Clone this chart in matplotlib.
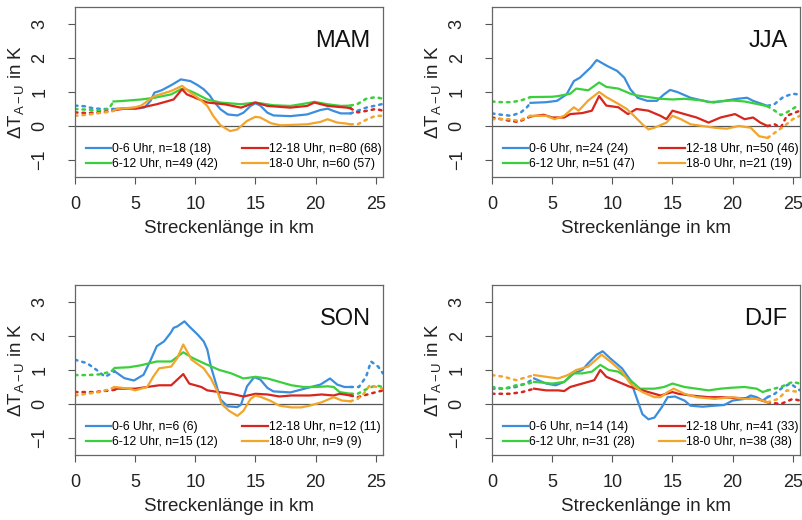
import numpy as np
import matplotlib
matplotlib.use("Agg")
import matplotlib.pyplot as plt

plt.rcParams['font.family'] = ['Liberation Sans', 'DejaVu Sans']
plt.rcParams['mathtext.fontset'] = 'custom'
plt.rcParams['mathtext.rm'] = 'Liberation Sans'
plt.rcParams['mathtext.it'] = 'Liberation Sans:italic'
plt.rcParams['mathtext.bf'] = 'Liberation Sans:bold'

mam_06 = [(0, 0.6), (0.8, 0.58), (1.5, 0.52), (2.3, 0.5), (3.2, 0.5), (4, 0.52), (5, 0.5), (5.8, 0.55),
          (6.3, 0.75), (6.6, 0.98), (7.2, 1.05), (8, 1.2), (8.8, 1.37), (9.6, 1.32), (10.2, 1.2), (10.7, 1.08),
          (11.2, 0.9), (11.5, 0.74), (12.1, 0.49), (12.7, 0.34), (13.5, 0.31), (14, 0.39), (14.6, 0.59),
          (15, 0.67), (15.4, 0.6), (16, 0.39), (16.5, 0.31), (17.9, 0.29), (19.3, 0.34), (20.4, 0.47),
          (21, 0.51), (21.5, 0.44), (22.1, 0.37), (22.9, 0.37), (23.5, 0.45), (24.3, 0.55), (25, 0.6),
          (25.6, 0.65)]
mam_612 = [(0, 0.5), (1, 0.48), (2, 0.45), (2.8, 0.5), (3.2, 0.72), (4.1, 0.74), (5.5, 0.78), (6.6, 0.83),
           (8, 0.93), (8.8, 1.08), (9.1, 1.1), (9.9, 0.98), (11, 0.78), (12.1, 0.69), (13.8, 0.64), (15, 0.69),
           (16.5, 0.61), (17.9, 0.59), (19.3, 0.67), (19.9, 0.71), (21, 0.64), (22.1, 0.59), (22.9, 0.6),
           (23.5, 0.65), (24.2, 0.8), (25, 0.85), (25.6, 0.8)]
mam_1218 = [(0, 0.4), (1, 0.38), (2, 0.4), (3, 0.44), (3.2, 0.46), (4.1, 0.51), (5.5, 0.54), (6.8, 0.64),
            (8.2, 0.78), (8.9, 1.08), (9.3, 0.93), (10.2, 0.8), (11, 0.69), (12.4, 0.64), (13.8, 0.54),
            (15, 0.69), (16, 0.59), (17.9, 0.54), (19.3, 0.59), (19.9, 0.69), (21, 0.59), (22.6, 0.54),
            (22.9, 0.52), (23.5, 0.4), (24.3, 0.45), (25, 0.5), (25.6, 0.45)]
mam_180 = [(0, 0.3), (1, 0.33), (2, 0.38), (3, 0.42), (3.2, 0.45), (3.5, 0.5), (5, 0.55), (5.5, 0.6),
           (6.6, 0.88), (8, 1.03), (8.9, 1.18), (9.6, 0.98), (10.4, 0.78), (11, 0.59), (11.5, 0.29),
           (12.1, 0.02), (12.9, -0.15), (13.5, -0.1), (14.3, 0.15), (15, 0.27), (15.4, 0.25), (16.3, 0.08),
           (17.1, 0.02), (19.3, 0.05), (20.4, 0.12), (21, 0.2), (21.8, 0.1), (22.6, 0.07), (22.9, 0.05),
           (23.5, 0.05), (24.3, 0.2), (25, 0.3), (25.6, 0.3)]

jja_06 = [(0, 0.37), (0.8, 0.33), (1.6, 0.3), (2.4, 0.4), (2.9, 0.55), (3.2, 0.68), (4.5, 0.7), (5.4, 0.74),
          (6.2, 0.93), (6.8, 1.32), (7.3, 1.42), (8.2, 1.72), (8.7, 1.94), (9.6, 1.76), (10.4, 1.62),
          (11, 1.42), (11.5, 1.08), (12.1, 0.83), (12.9, 0.74), (13.7, 0.74), (14.3, 0.93), (14.8, 1.06),
          (15.4, 1.0), (16.5, 0.83), (17.6, 0.74), (18.4, 0.69), (19.3, 0.74), (20.4, 0.8), (21.2, 0.83),
          (21.7, 0.74), (22.9, 0.59), (23.5, 0.65), (24.2, 0.85), (25, 0.95), (25.6, 0.92)]
jja_612 = [(0, 0.72), (0.8, 0.7), (1.6, 0.7), (2.4, 0.75), (3.2, 0.85), (5, 0.86), (5.5, 0.88), (6.5, 0.95),
           (7, 1.1), (8, 1.05), (8.9, 1.28), (9.5, 1.15), (10.5, 1.1), (11.5, 0.95), (12, 0.9), (13, 0.85),
           (14, 0.8), (15, 0.78), (16, 0.8), (17.5, 0.75), (18, 0.7), (20, 0.75), (21, 0.72), (22, 0.65),
           (22.9, 0.58), (23.5, 0.45), (24, 0.32), (24.5, 0.4), (25.2, 0.55), (25.6, 0.6)]
jja_1218 = [(0, 0.25), (0.8, 0.2), (1.5, 0.15), (2.2, 0.12), (3.2, 0.28), (4.3, 0.33), (5, 0.25), (6, 0.25),
            (6.5, 0.35), (7.5, 0.38), (8.3, 0.45), (8.9, 0.88), (9.5, 0.6), (10.5, 0.55), (11.3, 0.35),
            (12, 0.5), (13, 0.45), (14, 0.3), (14.5, 0.2), (15, 0.45), (16, 0.35), (17, 0.25), (18, 0.1),
            (19, 0.25), (20.2, 0.35), (21, 0.2), (21.7, 0.25), (22.3, 0.1), (22.9, 0.0), (23.5, 0.05),
            (24, -0.05), (24.5, 0.3), (25.6, 0.45)]
jja_180 = [(0, 0.2), (0.8, 0.2), (1.5, 0.2), (2.2, 0.15), (3.2, 0.3), (4.5, 0.3), (5.2, 0.2), (6, 0.3),
           (6.8, 0.55), (7.2, 0.45), (8, 0.75), (8.9, 1.0), (9.5, 0.85), (10.5, 0.65), (11.2, 0.5),
           (11.8, 0.3), (12.5, 0.05), (13, -0.1), (13.5, -0.05), (14.5, 0.1), (15, 0.3), (15.7, 0.2),
           (16.5, 0.05), (17.5, 0.0), (18.5, -0.05), (19.5, -0.08), (20.5, 0.0), (21.5, -0.05), (22.2, -0.3),
           (22.9, -0.35), (23.5, -0.2), (24.3, 0.0), (25, 0.2), (25.6, 0.3)]

son_06 = [(0, 1.3), (1, 1.2), (1.8, 1.0), (2.5, 0.8), (3.3, 0.96), (4.1, 0.76), (4.9, 0.69), (5.7, 0.86),
          (6.3, 1.3), (6.8, 1.7), (7.4, 1.84), (7.95, 2.09), (8.2, 2.24), (8.5, 2.28), (9.1, 2.43),
          (9.5, 2.28), (10.2, 2.04), (10.7, 1.84), (11, 1.6), (11.3, 1.1), (11.7, 0.62), (12.1, 0.13),
          (12.7, -0.07), (13.5, -0.09), (13.8, -0.02), (14.3, 0.52), (14.9, 0.79), (15.4, 0.72), (16, 0.47),
          (16.5, 0.37), (17.9, 0.34), (19.3, 0.47), (20.4, 0.57), (21.2, 0.75), (21.8, 0.57), (22.4, 0.5),
          (22.9, 0.5), (23.6, 0.5), (24.2, 0.8), (24.6, 1.25), (25.2, 1.1), (25.6, 0.9)]
son_612 = [(0, 0.85), (1, 0.85), (2, 0.87), (3, 0.95), (3.3, 1.06), (4.5, 1.08), (5.5, 1.14), (6.8, 1.25),
           (8, 1.25), (9, 1.52), (9.8, 1.35), (10.7, 1.2), (12, 1.0), (13, 0.9), (14, 0.75), (15, 0.8),
           (16, 0.75), (17, 0.65), (18, 0.55), (19, 0.5), (20, 0.5), (21, 0.52), (21.5, 0.5), (22, 0.35),
           (22.9, 0.3), (23.5, 0.3), (24, 0.4), (25, 0.55), (25.6, 0.5)]
son_1218 = [(0, 0.35), (1.5, 0.35), (3, 0.4), (3.3, 0.42), (3.5, 0.45), (5, 0.45), (6, 0.5), (7, 0.55),
            (8, 0.55), (9, 0.88), (9.5, 0.6), (10.5, 0.5), (11, 0.4), (12, 0.35), (13, 0.3), (14, 0.22),
            (15, 0.3), (16, 0.28), (17, 0.22), (18, 0.25), (19.5, 0.25), (20.5, 0.28), (21.5, 0.25), (22, 0.3),
            (22.9, 0.25), (23.5, 0.2), (24.5, 0.3), (25.6, 0.4)]
son_180 = [(0, 0.25), (1, 0.3), (2, 0.35), (3, 0.45), (3.3, 0.5), (4.5, 0.45), (5, 0.4), (6, 0.5), (6.5, 0.8),
           (7, 1.05), (8, 1.1), (8.5, 1.35), (9, 1.75), (9.7, 1.3), (10.7, 1.05), (11.3, 0.75), (11.8, 0.4),
           (12.2, 0.0), (12.8, -0.2), (13.5, -0.35), (14, -0.2), (14.6, 0.15), (15, 0.25), (15.5, 0.2),
           (16.2, 0.1), (17, -0.05), (18, -0.1), (18.8, -0.1), (19.5, -0.05), (20.5, 0.05), (21.5, 0.2),
           (22.2, 0.1), (22.9, 0.08), (23.5, 0.15), (24, 0.3), (24.5, 0.55), (25.6, 0.45)]

djf_06 = [(0, 0.45), (1, 0.45), (2, 0.5), (2.8, 0.6), (3.5, 0.75), (4.5, 0.6), (5.3, 0.55), (6, 0.65),
          (6.8, 0.9), (7.5, 1.0), (8, 1.2), (8.7, 1.45), (9.2, 1.55), (9.8, 1.35), (10.8, 1.05), (11.5, 0.7),
          (12, 0.2), (12.5, -0.3), (13, -0.45), (13.5, -0.4), (14.1, -0.1), (14.6, 0.2), (15.2, 0.22),
          (16, 0.1), (16.5, -0.05), (17.5, -0.08), (18.5, -0.05), (19.3, -0.03), (20, 0.1), (21, 0.15),
          (21.5, 0.25), (22, 0.2), (22.5, 0.1), (22.9, 0.2), (23.5, 0.3), (24.2, 0.5), (24.8, 0.6),
          (25.6, 0.4)]
djf_612 = [(0, 0.5), (1, 0.45), (2, 0.55), (3, 0.6), (3.5, 0.65), (5, 0.6), (6, 0.65), (6.7, 0.9), (7.5, 0.9),
           (8.3, 0.95), (9, 1.15), (9.7, 1.0), (10.5, 0.95), (11.5, 0.7), (12.3, 0.45), (13.5, 0.45),
           (14.3, 0.5), (15, 0.6), (16, 0.5), (17, 0.45), (18, 0.4), (19, 0.45), (20, 0.48), (21, 0.5),
           (22, 0.45), (22.5, 0.35), (22.9, 0.4), (24, 0.5), (25, 0.65), (25.6, 0.6)]
djf_1218 = [(0, 0.3), (1.5, 0.3), (2.5, 0.35), (3.5, 0.45), (4.5, 0.4), (5.5, 0.4), (6, 0.38), (6.5, 0.5),
            (7.5, 0.6), (8.5, 0.7), (9, 1.0), (9.5, 0.8), (10.5, 0.65), (11.5, 0.5), (12.5, 0.4), (13.5, 0.3),
            (14, 0.25), (15, 0.35), (15.5, 0.3), (16.5, 0.25), (18, 0.2), (19, 0.2), (20, 0.18), (21, 0.17),
            (22, 0.15), (22.9, 0.05), (24, 0.0), (25, 0.15), (25.6, 0.1)]
djf_180 = [(0, 0.85), (1, 0.8), (2, 0.7), (3, 0.8), (3.5, 0.85), (4.5, 0.8), (5.5, 0.75), (6.3, 0.85), (7, 1.0),
           (8, 1.1), (8.8, 1.35), (9.1, 1.45), (10, 1.2), (10.8, 0.95), (11.5, 0.6), (12.5, 0.35), (13.5, 0.2),
           (14, 0.2), (14.6, 0.35), (15.1, 0.45), (16, 0.3), (17, 0.2), (18.5, 0.15), (20, 0.2), (21, 0.15),
           (22, 0.15), (22.5, 0.1), (22.9, 0.05), (23.8, 0.15), (24.5, 0.4), (25.6, 0.35)]

mam_n = ['n=18 (18)', 'n=49 (42)', 'n=80 (68)', 'n=60 (57)']
jja_n = ['n=24 (24)', 'n=51 (47)', 'n=50 (46)', 'n=21 (19)']
son_n = ['n=6 (6)', 'n=15 (12)', 'n=12 (11)', 'n=9 (9)']
djf_n = ['n=14 (14)', 'n=31 (28)', 'n=41 (33)', 'n=38 (38)']

zeiten = ['0-6 Uhr', '6-12 Uhr', '12-18 Uhr', '18-0 Uhr']
farben = ['#3b8ede', '#3ccf3c', '#d7261e', '#f2a52b']


def panel(ax, name, serien, nlabels, start, ende):
    handles = []
    for s, c in zip(serien, farben):
        d = np.array(s)
        x, y = d[:, 0], d[:, 1]
        m = (x >= start) & (x <= ende)
        for mm in [x <= start, x >= ende]:
            ax.plot(x[mm], y[mm], color=c, lw=1.8, ls=(0, (1, 2)), solid_capstyle='round',
                    dash_capstyle='round')
        h, = ax.plot(x[m], y[m], color=c, lw=1.6)
        handles.append(h)
    ax.axhline(0, color='#555555', lw=0.9, zorder=0)
    ax.set_xlim(0, 25.6)
    ax.set_ylim(-1.5, 3.5)
    ax.set_xticks([0, 5, 10, 15, 20, 25])
    ax.set_yticks([-1, 0, 1, 2, 3])
    for sp in ax.spines.values():
        sp.set_color('#666666')
        sp.set_linewidth(0.9)
    ax.tick_params(direction='out', length=5, width=0.8, color='#555555', labelsize=13,
                   labelcolor='#222222')
    ax.tick_params(axis='x', pad=9)
    ax.tick_params(axis='y', labelrotation=90, pad=14)
    for t in ax.get_yticklabels():
        t.set_va('center')
    ax.set_xlabel('Streckenlänge in km', fontsize=13.5, color='#222222')
    ax.set_ylabel(r'$\Delta\mathrm{T}_{\mathrm{A-U}}$ in K', fontsize=13.5, color='#222222')
    ax.xaxis.set_label_coords(0.5, -0.255)
    ax.yaxis.set_label_coords(-0.16, 0.5)
    ax.text(0.96, 0.80, name, transform=ax.transAxes, ha='right', va='center', fontsize=17,
            color='#111111')
    labels = [z + ', ' + n for z, n in zip(zeiten, nlabels)]
    ax.legend(handles, labels, ncol=2, loc='upper left', bbox_to_anchor=(0.035, 0.2),
              frameon=False, fontsize=8.7, borderpad=0, labelspacing=0.25, handlelength=2.1,
              handletextpad=0.1, columnspacing=2.0, borderaxespad=0)


fig = plt.figure(figsize=(8.02, 5.2), dpi=100)
ax1 = fig.add_axes([0.0935, 0.6596, 0.384, 0.327])
ax2 = fig.add_axes([0.6135, 0.6596, 0.384, 0.327])
ax3 = fig.add_axes([0.0935, 0.125, 0.384, 0.327])
ax4 = fig.add_axes([0.6135, 0.125, 0.384, 0.327])

panel(ax1, 'MAM', [mam_06, mam_612, mam_1218, mam_180], mam_n, 3.2, 22.9)
panel(ax2, 'JJA', [jja_06, jja_612, jja_1218, jja_180], jja_n, 3.2, 22.9)
panel(ax3, 'SON', [son_06, son_612, son_1218, son_180], son_n, 3.3, 22.9)
panel(ax4, 'DJF', [djf_06, djf_612, djf_1218, djf_180], djf_n, 3.5, 22.9)

fig.savefig('out.png', dpi=100)
